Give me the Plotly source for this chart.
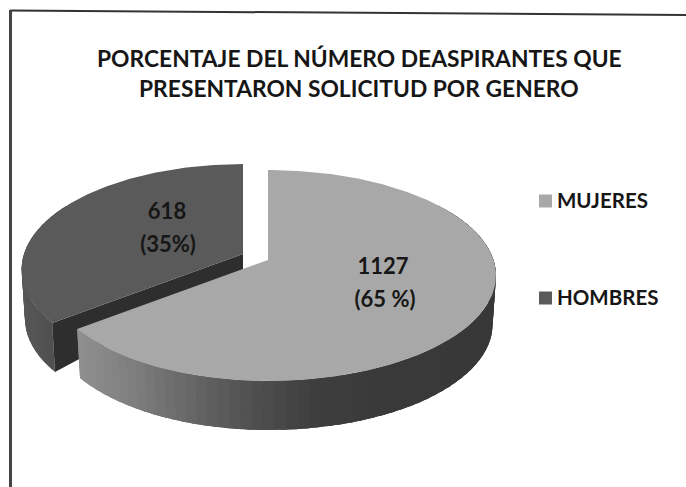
import numpy as np
import plotly.graph_objects as go

title_lines = ["PORCENTAJE DEL NÚMERO DEASPIRANTES QUE", "PRESENTARON SOLICITUD POR GENERO"]
categories = ["MUJERES", "HOMBRES"]
counts = [1127, 618]
count_labels = ["1127", "618"]
share_labels = ["(65 %)", "(35%)"]

W, H = 686, 487
FONT = "Lato"
INK = "#161616"
TOP_M, TOP_H = "#a8a8a8", "#5a5a5a"
CUT_H = "#2e2e2e"

# projected pie geometry
TIP_M = (268.0, 260.0)
TIP_H = (243.0, 254.0)
RX_R, RX_L, RY, K = 225.5, 219.0, 103.2, 0.147
DEPTH, SHRINK = 49.0, 0.985

split = 360.0 * counts[0] / sum(counts)


def arc(tip, t0, t1, n=120, drop=0.0):
    t = np.radians(np.linspace(t0, t1, n))
    u, v = np.sin(t), np.cos(t)
    d = 1 + K * v
    rx = np.where(u >= 0, RX_R, RX_L)
    s = SHRINK if drop else 1.0
    return tip[0] + s * rx * u / d, tip[1] - RY * v / d + drop


def poly(x, y, color, name=None):
    return go.Scatter(x=x, y=y, mode="lines", fill="toself", fillcolor=color,
                      line=dict(color=color, width=0), hoverinfo="skip",
                      showlegend=False, name=name)


def shade(x, stops):
    xs, vs = zip(*stops)
    g = int(np.interp(x, xs, vs))
    return f"rgb({g},{g},{g})"


def wall(tip, t0, t1, n, stops):
    """Shaded outer wall: each strip overlaps the next so no seams appear."""
    edges = np.linspace(t0, t1, n)
    step = edges[1] - edges[0]
    for a in edges[:-1]:
        b = min(a + 2.5 * step, max(t0, t1))
        xa, ya = arc(tip, a, b, 8)
        xb, yb = arc(tip, a, b, 8, drop=DEPTH)
        fig.add_trace(poly(np.r_[xa, xb[::-1]], np.r_[ya, yb[::-1]], shade(xa.mean(), stops)))


fig = go.Figure()

# HOMBRES wall, cut face, top
wall(TIP_H, split, 300, 26, [(20, 88), (60, 76), (90, 60)])

ex, ey = arc(TIP_H, split, split, 1)
ebx, eby = arc(TIP_H, split, split, 1, drop=DEPTH)
fig.add_trace(poly([TIP_H[0], ex[0], ebx[0], TIP_H[0]],
                   [TIP_H[1], ey[0], eby[0], TIP_H[1] + DEPTH * 0.35], CUT_H))

xh, yh = arc(TIP_H, split, 360)
fig.add_trace(poly(np.r_[TIP_H[0], xh, TIP_H[0]], np.r_[TIP_H[1], yh, TIP_H[1]], TOP_H, categories[1]))

# MUJERES wall (shaded) and top
wall(TIP_M, 55, split, 70, [(80, 142), (130, 125), (190, 100), (250, 78), (310, 62), (380, 58), (496, 56)])

xm, ym = arc(TIP_M, 0, split, 240)
fig.add_trace(poly(np.r_[TIP_M[0], xm, TIP_M[0]], np.r_[TIP_M[1], ym, TIP_M[1]], TOP_M, categories[0]))

# value labels
fig.add_trace(go.Scatter(
    x=[383, 167, 385, 168], y=[268, 213, 301, 246], mode="text",
    text=count_labels + share_labels,
    textfont=dict(family=FONT, size=22, color=INK, weight="bold"),
    hoverinfo="skip", showlegend=False))

# legend keys and names
fig.add_trace(go.Scatter(
    x=[545.5, 545.5], y=[201, 298], mode="markers",
    marker=dict(symbol="square", size=13, color=[TOP_M, TOP_H], line=dict(width=0)),
    hoverinfo="skip", showlegend=False))
fig.add_trace(go.Scatter(
    x=[557, 557], y=[203, 300], mode="text", text=categories,
    textposition="middle right",
    textfont=dict(family=FONT, size=20.5, color=INK, weight="bold"),
    hoverinfo="skip", showlegend=False))

# title
for line, y in zip(title_lines, [58, 88]):
    fig.add_annotation(x=359, y=y, xref="x", yref="y", text=f"<b>{line}</b>", showarrow=False,
                       font=dict(family=FONT, size=22.8, color=INK), xanchor="center", yanchor="middle")

# frame
fig.add_shape(type="line", x0=10, y0=10.5, x1=686, y1=15, xref="x", yref="y",
              line=dict(color="#333333", width=2))
fig.add_shape(type="line", x0=10.5, y0=10, x1=10.5, y1=487, xref="x", yref="y",
              line=dict(color="#444444", width=3))

fig.update_layout(
    width=W, height=H, margin=dict(l=0, r=0, t=0, b=0),
    paper_bgcolor="white", plot_bgcolor="white", showlegend=False,
    xaxis=dict(range=[0, W], visible=False, fixedrange=True),
    yaxis=dict(range=[H, 0], visible=False, fixedrange=True),
)
fig.write_html("out.html", config={"displayModeBar": False},
               post_script="document.body.style.margin='0';document.documentElement.style.overflow='hidden';")
